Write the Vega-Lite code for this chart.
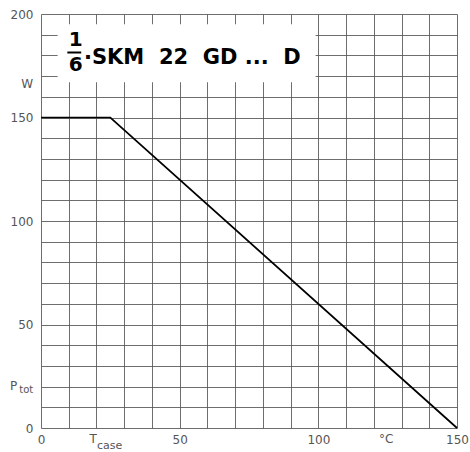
{
  "$schema": "https://vega.github.io/schema/vega-lite/v6.json",
  "width": 416,
  "height": 414,
  "autosize": "none",
  "padding": {"left": 41, "top": 14, "right": 13, "bottom": 24},
  "background": "white",
  "config": {
    "view": {"stroke": null},
    "axis": {
      "grid": true,
      "gridColor": "#555",
      "gridWidth": 1,
      "gridOpacity": 0.85,
      "ticks": false,
      "domain": false,
      "labelFont": "DejaVu Sans",
      "labelFontSize": 12,
      "labelColor": "#555",
      "title": null
    }
  },
  "data": {"values": [
    {"t": 0, "p": 150},
    {"t": 25, "p": 150},
    {"t": 150, "p": 0}
  ]},
  "encoding": {
    "x": {"field": "t", "type": "quantitative",
      "scale": {"domain": [0, 150], "nice": false},
      "axis": {"values": [0,10,20,30,40,50,60,70,80,90,100,110,120,130,140,150],
        "labelExpr": "datum.value % 50 == 0 ? datum.label : ''", "labelPadding": 6, "labelFlush": false}},
    "y": {"field": "p", "type": "quantitative",
      "scale": {"domain": [0, 200], "nice": false},
      "axis": {"values": [0,10,20,30,40,50,60,70,80,90,100,110,120,130,140,150,160,170,180,190,200],
        "labelExpr": "datum.value % 50 == 0 ? datum.label : ''", "labelPadding": 8}}
  },
  "layer": [
    {
      "transform": [{"filter": "datum.t == 0"}],
      "mark": {"type": "rect", "color": "white"},
      "encoding": {
        "x": {"datum": 6}, "x2": {"datum": 99},
        "y": {"datum": 167}, "y2": {"datum": 195}
      }
    },
    {
      "mark": {"type": "line", "color": "black", "strokeWidth": 1.7}
    },
    {
      "transform": [{"filter": "datum.t == 0"}],
      "mark": {"type": "text", "text": "1", "font": "DejaVu Sans", "fontWeight": "bold", "fontSize": 20, "align": "center", "baseline": "middle"},
      "encoding": {"x": {"datum": 12.5}, "y": {"datum": 187.6}}
    },
    {
      "transform": [{"filter": "datum.t == 0"}],
      "mark": {"type": "text", "text": "6", "font": "DejaVu Sans", "fontWeight": "bold", "fontSize": 20, "align": "center", "baseline": "middle"},
      "encoding": {"x": {"datum": 12.5}, "y": {"datum": 175.3}}
    },
    {
      "transform": [{"filter": "datum.t == 0"}],
      "mark": {"type": "rule", "color": "black", "strokeWidth": 2},
      "encoding": {"x": {"datum": 9.5}, "x2": {"datum": 14.5}, "y": {"datum": 181.4}}
    },
    {
      "transform": [{"filter": "datum.t == 0"}],
      "mark": {"type": "text", "text": "·SKM\u00a0\u00a022\u00a0\u00a0GD\u00a0...\u00a0\u00a0D", "font": "DejaVu Sans", "fontWeight": "bold", "fontSize": 21, "align": "left", "baseline": "middle"},
      "encoding": {"x": {"datum": 15.5}, "y": {"datum": 178.8}}
    },
    {
      "transform": [{"filter": "datum.t == 0"}],
      "mark": {"type": "text", "text": "W", "font": "DejaVu Sans", "fontWeight": "normal", "fontSize": 12, "color": "#555", "align": "right", "baseline": "middle"},
      "encoding": {"x": {"datum": -2.8}, "y": {"datum": 166}}
    },
    {
      "transform": [{"filter": "datum.t == 0"}],
      "mark": {"type": "text", "text": "P", "font": "DejaVu Sans", "fontWeight": "normal", "fontSize": 12, "color": "#555", "align": "right", "baseline": "middle"},
      "encoding": {"x": {"datum": -8.6}, "y": {"datum": 20.5}}
    },
    {
      "transform": [{"filter": "datum.t == 0"}],
      "mark": {"type": "text", "text": "tot", "font": "DejaVu Sans", "fontWeight": "normal", "fontSize": 10, "color": "#555", "align": "right", "baseline": "middle"},
      "encoding": {"x": {"datum": -2.8}, "y": {"datum": 18.5}}
    },
    {
      "transform": [{"filter": "datum.t == 0"}],
      "mark": {"type": "text", "text": "T", "font": "DejaVu Sans", "fontWeight": "normal", "fontSize": 12, "color": "#555", "align": "left", "baseline": "top"},
      "encoding": {"x": {"datum": 17.5}, "y": {"datum": -2.9}}
    },
    {
      "transform": [{"filter": "datum.t == 0"}],
      "mark": {"type": "text", "text": "case", "font": "DejaVu Sans", "fontWeight": "normal", "fontSize": 11, "color": "#555", "align": "left", "baseline": "top"},
      "encoding": {"x": {"datum": 20.2}, "y": {"datum": -5.8}}
    },
    {
      "transform": [{"filter": "datum.t == 0"}],
      "mark": {"type": "text", "text": "°C", "font": "DejaVu Sans", "fontWeight": "normal", "fontSize": 12, "color": "#555", "align": "center", "baseline": "top"},
      "encoding": {"x": {"datum": 124.5}, "y": {"datum": -2.9}}
    }
  ]
}
